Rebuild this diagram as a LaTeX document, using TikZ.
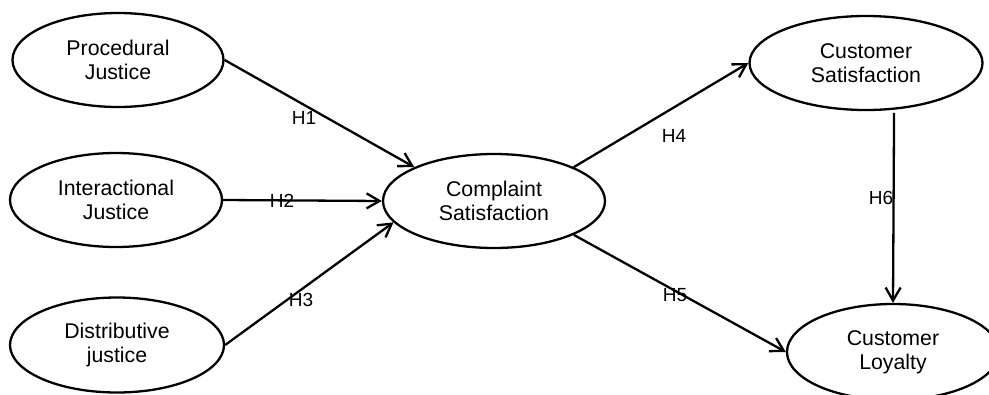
\documentclass[tikz,border=0pt]{standalone}
\usepackage{fontspec}
\setmainfont{Liberation Sans}
\usetikzlibrary{shapes.geometric,arrows.meta}
\tikzset{
  construct/.style={ellipse, draw, line width=2.3pt, inner sep=0pt,
    align=center, font=\fontsize{21.3pt}{24pt}\selectfont},
  path/.style={line width=2.3pt, -{Straight Barb[length=13pt,width=15pt,line width=2.3pt]}},
  hyp/.style={font=\fontsize{19pt}{21pt}\selectfont, inner sep=0pt}
}
\begin{document}
\begin{tikzpicture}[x=1pt,y=-1pt]
  \useasboundingbox (0,0) rectangle (989,394);
  \begin{scope}
    \clip (0,0) rectangle (989,394);
    % constructs
    \node[construct, minimum width=211pt, minimum height=94pt] (pj) at (118,60) {Procedural\\Justice};
    \node[construct, minimum width=212pt, minimum height=94pt] (ij) at (116,200) {Interactional\\Justice};
    \node[construct, minimum width=214pt, minimum height=95pt] (dj) at (117,345) {Distributive\\justice};
    \node[construct, minimum width=222pt, minimum height=94pt] (cs) at (494,201) {Complaint\\Satisfaction};
    \node[construct, minimum width=233pt, minimum height=94pt] (cus) at (866,63) {Customer\\Satisfaction};
    \node[construct, minimum width=212pt, minimum height=96pt] (cl) at (893,352) {Customer\\Loyalty};
    % hypothesised paths
    \draw[path] (pj.east) -- (cs.157.2);
    \draw[path] (ij.east) -- (cs.west);
    \draw[path] (dj.east) -- (cs.-168);
    \draw[path] (cs.23.3) -- (cus.west);
    \draw[path] (cs.-23.3) -- (cl.west);
    \draw[path] ([yshift=-3pt]cus.-59.4) -- (cl.north);
    % path labels
    \node[hyp] (h1) at (304,118) {H1};
    \node[hyp] (h2) at (282,201) {H2};
    \node[hyp] (h3) at (301,300) {H3};
    \node[hyp] (h4) at (674,136) {H4};
    \node[hyp] (h5) at (675,295) {H5};
    \node[hyp] (h6) at (881,198) {H6};
  \end{scope}
\end{tikzpicture}
\end{document}
